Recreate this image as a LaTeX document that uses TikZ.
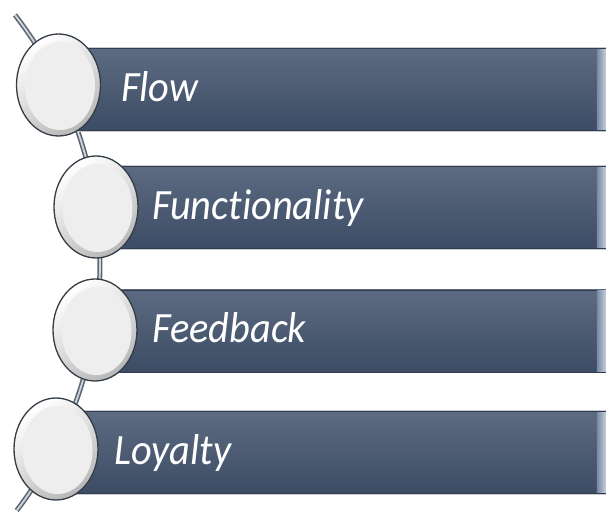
\documentclass[tikz,border=0pt]{standalone}
\usepackage{fontspec}
\setmainfont{Carlito}[Ligatures=NoCommon]
\usetikzlibrary{shapes.geometric}

\definecolor{bartop}{RGB}{92,107,130}
\definecolor{barbot}{RGB}{60,76,100}
\definecolor{barline}{RGB}{50,62,80}
\definecolor{barhalo}{RGB}{200,204,210}
\definecolor{tubeedge}{RGB}{92,102,114}
\definecolor{tubecore}{RGB}{206,213,222}
\definecolor{ringline}{RGB}{52,60,70}
\definecolor{capleft}{RGB}{120,136,160}
\definecolor{capright}{RGB}{205,215,230}

\newcommand{\tallword}[1]{\scalebox{1.01}[1.08]{#1}}

\begin{document}
\begin{tikzpicture}[x=1pt,y=1pt,
  bar/.style={rectangle, anchor=west, inner sep=0pt, minimum height=82,
    top color=bartop, bottom color=barbot, draw=barline, line width=0.8pt,
    preaction={draw=barhalo, line width=2.6pt}},
  endcap/.style={left color=capleft, right color=capright},
  disc/.style={ellipse, inner sep=0pt, minimum width=84, minimum height=102,
    draw=ringline, line width=1.3pt, top color=white, bottom color=black!28,
    shading angle=35},
  core/.style={ellipse, inner sep=0pt, minimum width=70, minimum height=88,
    fill={rgb,255:red,238;green,238;blue,238}},
  label/.style={anchor=base west, inner sep=0pt, text=white,
    font=\fontsize{40}{48}\selectfont\itshape},
  tube/.style={draw=tubecore, line width=1.8pt,
    preaction={draw=tubeedge, line width=5pt}}
]
\useasboundingbox (0,0) rectangle (606,-518);

% the curved spine the rings sit on
\coordinate (spinetop) at (15,-15);
\draw[tube] (spinetop) arc[start angle=37.7, end angle=-37.3, radius=407];

% bars
\node[bar, minimum width=548] (b1) at (58,-89.5) {};
\node[bar, minimum width=510] (b2) at (96,-207.5) {};
\node[bar, minimum width=511] (b3) at (95,-331) {};
\node[bar, minimum width=550] (b4) at (56,-452.5) {};
\foreach \b in {b1,b2,b3,b4}
  \fill[endcap] ([xshift=-10pt,yshift=-1pt]\b.north east) rectangle ([yshift=1pt]\b.south east);

% rings
\node[disc] (c1) at (58.5,-85) {};
\node[disc] (c2) at (96,-207) {};
\node[disc] (c3) at (95,-330) {};
\node[disc] (c4) at (56,-449) {};
\foreach \c in {c1,c2,c3,c4}
  \node[core] (\c core) at ([xshift=1.5pt,yshift=-1pt]\c.center) {};

% captions
\node[label] (t1) at (121,-102) {\tallword{Flow}};
\node[label] (t2) at (152,-220) {\tallword{Functionality}};
\node[label] (t3) at (152,-343) {\tallword{Feedback}};
\node[label] (t4) at (114,-465) {\tallword{Loyalty}};
\end{tikzpicture}
\end{document}
